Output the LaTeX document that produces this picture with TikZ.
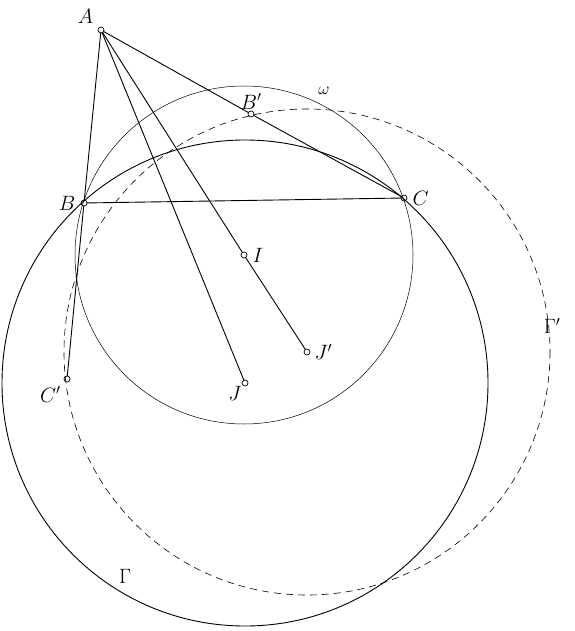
\documentclass[tikz,border=0pt]{standalone}
\usepackage{amssymb, amsmath, amsfonts}
\usetikzlibrary{calc}

\begin{document}
\begin{tikzpicture}[x=1pt,y=-1pt,font=\huge]
      \tikzset{mark coordinate/.style={inner sep=0pt,
          outer sep=0pt,
          minimum size=6pt,
          draw=black, line width=0.7pt,
          fill=#1,
          circle}
      }
      \useasboundingbox (0,0) rectangle (574,631);
      \node [mark coordinate=white,label={[label distance=2pt]150:$A$}] (A) at (101,30) {};
      \node [mark coordinate=white,label={[label distance=2pt]180:$B$}] (B) at (84,203) {};
      \node [mark coordinate=white,label={[label distance=2pt]0:$C$}] (C) at (404,198) {};
      \node [mark coordinate=white,label={[label distance=-2pt]90:$B'$}] (Bp) at (251,114) {};
      \node [mark coordinate=white,label={[label distance=2pt]0:$I$}] (I) at (244,255) {};
      \node [mark coordinate=white,label={[label distance=-3pt]230:$J$}] (J) at (245,383) {};
      \node [mark coordinate=white,label={[label distance=1pt]0:$J'$}] (Jp) at (307,352) {};
      \node [mark coordinate=white,label={[label distance=2pt]235:$C'$}] (Cp) at (67,379) {};
      \draw [line width=0.5pt] (I.center) circle (169);
      \draw [line width=0.9pt] (J.center) circle (243);
      \draw [line width=0.6pt, dash pattern=on 7pt off 5pt] (Jp.center) circle (243);
      \draw [line width=0.9pt] (A)--(Bp)--(C)--(B)--(A);
      \draw [line width=0.9pt] (B)--(Cp);
      \draw [line width=0.9pt] (A)--(J);
      \draw [line width=0.9pt] (A)--(I)--(Jp);
      \node (omega) at (324,91) {\LARGE$\omega$};
      \node (Gammap) at (552,326) {$\Gamma'$};
      \node (Gamma) at (125,576) {$\Gamma$};

    \end{tikzpicture}
\end{document}
